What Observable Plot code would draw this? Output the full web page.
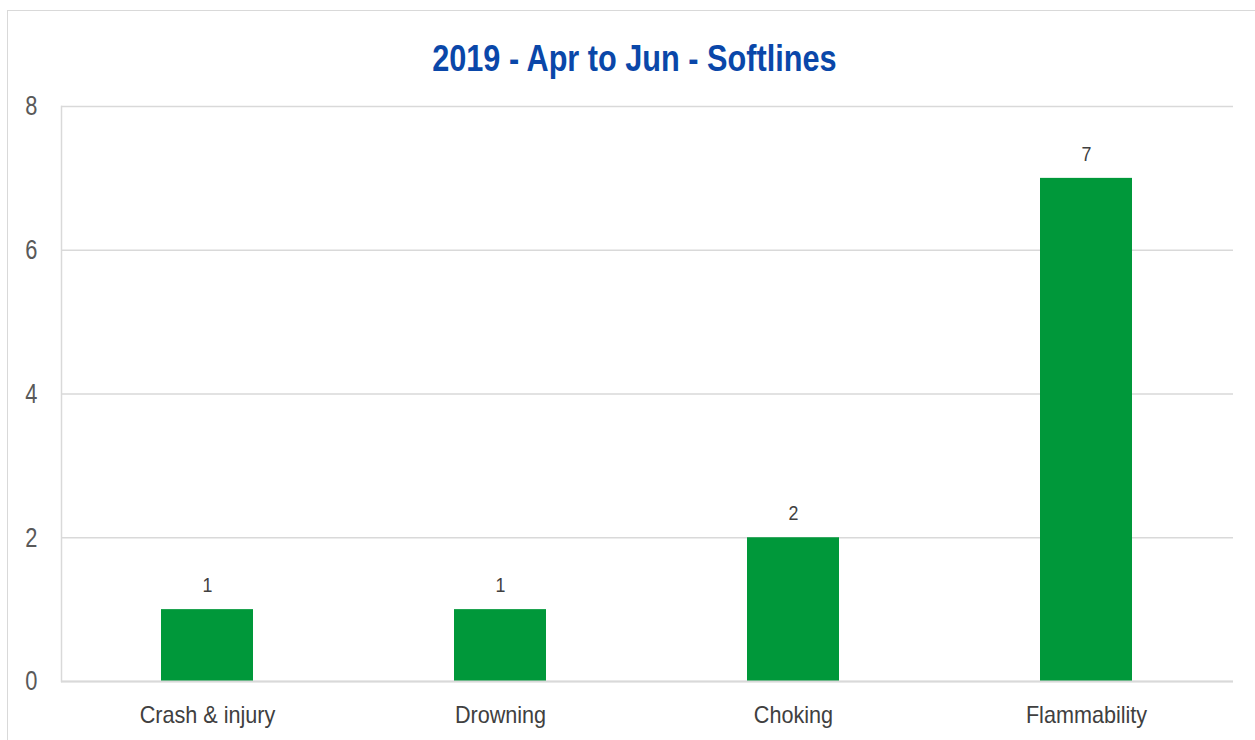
<!DOCTYPE html>
<html>
<head>
<meta charset="utf-8">
<script src="https://cdn.jsdelivr.net/npm/d3@7"></script>
<script src="https://cdn.jsdelivr.net/npm/@observablehq/plot@0.6"></script>
<style>
  html, body { margin: 0; padding: 0; background: #fff; width: 1255px; height: 740px; overflow: hidden; }
  #frame { position: absolute; left: 7px; top: 10px; width: 1270px; height: 760px; border: 1px solid #d9d9d9; box-sizing: border-box; }
  #title { position: absolute; left: 0; top: 37px; width: 1268px; text-align: center; font-family: "Liberation Sans", Arial, sans-serif; font-weight: bold; font-size: 36px; color: #0a47a9; line-height: 44px; }
  #title span { display: inline-block; transform: scaleX(0.852); transform-origin: center; }
  #chart { position: absolute; left: 0; top: 90px; }
</style>
</head>
<body>
<div id="frame"></div>
<div id="title"><span>2019 - Apr to Jun - Softlines</span></div>
<div id="chart"></div>
<script>
const categories = ["Crash & injury", "Drowning", "Choking", "Flammability"];
const values = [1, 1, 2, 7];
const yTicks = [0, 2, 4, 6, 8];

const data = categories.map((c, i) => ({category: c, value: values[i]}));
const font = '"Liberation Sans", Arial, sans-serif';

const plot = Plot.plot({
  width: 1255,
  height: 650,
  marginTop: 16,
  marginBottom: 59,
  marginLeft: 61,
  marginRight: 22,
  style: {fontFamily: font, background: "transparent", color: "#595959"},
  x: {domain: categories, paddingInner: 0.686, paddingOuter: 0.343, label: null},
  y: {domain: [0, 8], ticks: yTicks, tickFormat: "d", label: null},
  marks: [
    Plot.gridY(yTicks, {stroke: "#d9d9d9", strokeOpacity: 1, strokeWidth: 1.5}),
    Plot.frame({anchor: "left", stroke: "#d9d9d9", strokeWidth: 1.5}),
    Plot.barY(data, {x: "category", y: "value", fill: "#00983a"}),
    Plot.ruleY([0], {stroke: "#d9d9d9", strokeWidth: 2}),
    Plot.axisY(yTicks, {tickSize: 0, tickPadding: 24, tickFormat: "d", fontSize: 28, fill: "#595959", label: null, className: "ylab"}),
    Plot.axisX({tickSize: 0, tickPadding: 24, fontSize: 24, fill: "#404040", label: null, className: "xlab"}),
    Plot.text(data, {x: "category", y: "value", text: d => String(d.value), dy: -24, fontSize: 21, fill: "#404040", className: "vlab"})
  ]
});
document.getElementById("chart").appendChild(plot);

// condense the text to mimic a narrow face
function condense(selector, k) {
  plot.querySelectorAll(selector + " text").forEach(t => {
    const len = t.getComputedTextLength();
    if (len > 0) {
      t.setAttribute("textLength", (len * k).toFixed(2));
      t.setAttribute("lengthAdjust", "spacingAndGlyphs");
    }
  });
}
condense(".ylab", 0.78);
condense(".xlab", 0.9);
condense(".vlab", 0.85);
</script>
</body>
</html>
